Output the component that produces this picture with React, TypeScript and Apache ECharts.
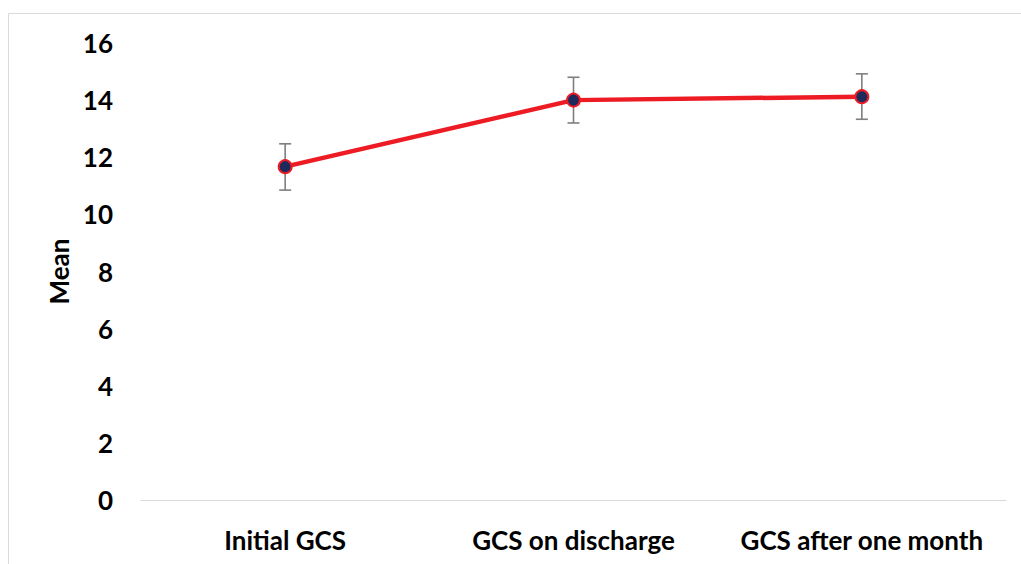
import React, { useEffect, useRef } from "react";
import * as echarts from "echarts";

const categories = ["Initial GCS", "GCS on discharge", "GCS after one month"];
const means = [11.67, 14.0, 14.12];
const errLow = [10.85, 13.2, 13.33];
const errHigh = [12.47, 14.8, 14.92];
const yTicks = { min: 0, max: 16, interval: 2 };

export default function App() {
  const ref = useRef<HTMLDivElement>(null);
  useEffect(() => {
    if (!ref.current) return;
    const chart = echarts.init(ref.current, undefined, { renderer: "svg" });
    const font = "Lato, 'Open Sans', sans-serif";
    chart.setOption({
      animation: false,
      backgroundColor: "#ffffff",
      graphic: [
        {
          type: "rect",
          shape: { x: 8.5, y: 13.5, width: 1030, height: 600 },
          style: { fill: "none", stroke: "#d9d9d9", lineWidth: 1 },
          silent: true,
        },
      ],
      grid: { left: 141, right: 15, top: 43, bottom: 64, containLabel: false },
      xAxis: {
        type: "category",
        data: categories,
        axisLine: { show: true, lineStyle: { color: "#d9d9d9", width: 1 } },
        axisTick: { show: false },
        axisLabel: {
          color: "#000",
          fontFamily: font,
          fontWeight: "bold",
          fontSize: 26,
          margin: 27,
          interval: 0,
          hideOverlap: false,
        },
      },
      yAxis: {
        type: "value",
        min: yTicks.min,
        max: yTicks.max,
        interval: yTicks.interval,
        name: "Mean",
        nameLocation: "middle",
        nameGap: 68,
        nameRotate: 90,
        nameTextStyle: { color: "#000", fontFamily: font, fontWeight: "bold", fontSize: 26 },
        axisLine: { show: false },
        axisTick: { show: false },
        splitLine: { show: false },
        axisLabel: {
          color: "#000",
          fontFamily: font,
          fontWeight: "bold",
          fontSize: 26,
          margin: 28,
        },
      },
      series: [
        {
          type: "custom",
          z: 1,
          data: categories.map((_, i) => [i, errLow[i], errHigh[i]]),
          renderItem: (params: any, api: any) => {
            const x = api.value(0);
            const lo = api.coord([x, api.value(1)]);
            const hi = api.coord([x, api.value(2)]);
            const cap = 6;
            const style = { stroke: "#7f7f7f", lineWidth: 1.6 };
            return {
              type: "group",
              children: [
                { type: "line", shape: { x1: lo[0], y1: lo[1], x2: hi[0], y2: hi[1] }, style },
                { type: "line", shape: { x1: lo[0] - cap, y1: lo[1], x2: lo[0] + cap, y2: lo[1] }, style },
                { type: "line", shape: { x1: hi[0] - cap, y1: hi[1], x2: hi[0] + cap, y2: hi[1] }, style },
              ],
            };
          },
        },
        {
          type: "line",
          z: 2,
          data: means,
          symbol: "circle",
          symbolSize: 13,
          lineStyle: { color: "#ed1c24", width: 4.5 },
          itemStyle: { color: "#1f2a5c", borderColor: "#ed1c24", borderWidth: 2 },
        },
      ],
    });
    return () => chart.dispose();
  }, []);
  return (
    <div
      ref={ref}
      style={{ position: "fixed", left: 0, top: 0, width: 1021, height: 564 }}
    />
  );
}
